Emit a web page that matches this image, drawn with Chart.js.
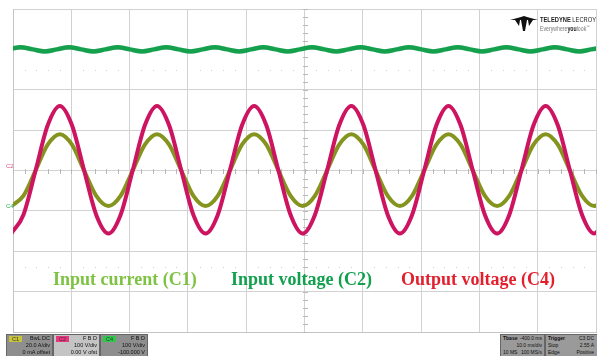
<!DOCTYPE html>
<html>
<head>
<meta charset="utf-8">
<script src="https://cdn.jsdelivr.net/npm/chart.js@4"></script>
<style>
  body { margin: 0; background: #fff; }
  #wrap { position: relative; width: 597px; height: 356px; overflow: hidden; font-family: "Liberation Sans", Arial, sans-serif; }
  canvas { position: absolute; left: 0; top: 0; }
  .lbl { position: absolute; top: 269px; font: bold 18px "Liberation Serif", "Times New Roman", serif; white-space: nowrap; }
  .chm { position: absolute; font-size: 6px; left: 6px; }
  .box { position: absolute; top: 334px; height: 24px; background: #8e8e8e; border: 1px solid #666; box-sizing: border-box; font-size: 5.5px; line-height: 7px; color: #111; }
  .box .b { position: absolute; left: 2px; top: 1px; width: 13px; height: 6px; font-size: 5.5px; line-height: 6px; text-align: center; color: #333; }
  .box .r { position: absolute; right: 2px; text-align: right; white-space: nowrap; }
  .box .l { position: absolute; left: 2px; white-space: nowrap; }
  #logo { position: absolute; left: 510px; top: 14px; }
</style>
</head>
<body>
<div id="wrap">
  <canvas id="scope" width="597" height="356"></canvas>

  <div class="lbl" style="left:53px;color:#7dc242">Input current (C1)</div>
  <div class="lbl" style="left:231px;color:#12a04e">Input voltage (C2)</div>
  <div class="lbl" style="left:401px;color:#e41f2d">Output voltage (C4)</div>

  <div class="chm" style="top:163px;color:#e0508a">C2</div>
  <div class="chm" style="top:203px;color:#20b050">C4</div>

  <div id="logo">
    <svg width="28" height="16" style="position:absolute;left:0;top:2px">
      <polygon points="0,4 11,1 14,0 17,1 28,4 17,4 15,15 13,15 11,4" fill="#111"/>
      <polygon points="5,4 10,4 9,10" fill="#111"/>
      <polygon points="18,4 23,4 19,10" fill="#111"/>
    </svg>
    <div style="position:absolute;left:30px;top:1px;font-size:8px;font-weight:bold;color:#222;white-space:nowrap;transform:scaleX(0.72);transform-origin:0 0">TELEDYNE <span style="font-weight:normal">LECROY</span></div>
    <div style="position:absolute;left:30px;top:10px;font-size:6.5px;color:#777;white-space:nowrap;transform:scaleX(0.8);transform-origin:0 0">Everywhere<b style="color:#222">you</b>look<sup style="font-size:4px">™</sup></div>
  </div>

  <div class="box" style="left:6px;width:47px">
    <div class="b" style="background:#c8c43a">C1</div>
    <div class="r" style="top:0px">BwL DC</div>
    <div class="r" style="top:7px">20.0 A/div</div>
    <div class="r" style="top:14px">0 mA offset</div>
  </div>
  <div class="box" style="left:53px;width:47px;background:#c4c4c4">
    <div class="b" style="background:#e8367e">C2</div>
    <div class="r" style="top:0px">F B D</div>
    <div class="r" style="top:7px">100 V/div</div>
    <div class="r" style="top:14px">0.00 V ofst</div>
  </div>
  <div class="box" style="left:100px;width:48px">
    <div class="b" style="background:#2ec84c">C4</div>
    <div class="r" style="top:0px">F B D</div>
    <div class="r" style="top:7px">100 V/div</div>
    <div class="r" style="top:14px">-100.000 V</div>
  </div>
  <div class="box" style="left:500px;width:45px;background:#9a9a9a;font-size:5px">
    <div class="l" style="top:0px;font-weight:bold">Tbase</div>
    <div class="r" style="top:0px">-400.0 ms</div>
    <div class="r" style="top:7px">10.0 ms/div</div>
    <div class="l" style="top:14px">10 MS</div>
    <div class="r" style="top:14px">100 MS/s</div>
  </div>
  <div class="box" style="left:545px;width:56px;background:#9a9a9a;font-size:5px">
    <div class="l" style="top:0px;font-weight:bold">Trigger</div>
    <div class="r" style="top:0px;right:6px">C3 DC</div>
    <div class="l" style="top:7px">Stop</div>
    <div class="r" style="top:7px;right:6px">2.55 A</div>
    <div class="l" style="top:14px">Edge</div>
    <div class="r" style="top:14px;right:6px">Positive</div>
  </div>
</div>

<script>
// time axis in ms (10 ms/div), vertical axis in divisions
var timeMs = [
  -0.3, 1.78, 3.87, 5.95, 8.03, 10.12, 12.2, 14.28, 16.37,
  18.45, 20.53, 22.62, 24.7, 26.78, 28.87, 30.95, 33.03,
  35.12, 37.2, 39.28, 41.37, 43.45, 45.53, 47.62, 49.7,
  51.78, 53.87, 55.95, 58.03, 60.12, 62.2, 64.28, 66.37,
  68.45, 70.53, 72.62, 74.7, 76.78, 78.87, 80.95, 83.03,
  85.12, 87.2, 89.28, 91.37, 93.45, 95.53, 97.62, 99.7, 101.78
];
var inputCurrent = [
  -0.88, -0.63, 0, 0.64, 0.9, 0.64, 0, -0.63,
  -0.88, -0.63, 0, 0.64, 0.9, 0.64, 0, -0.63,
  -0.88, -0.63, 0, 0.64, 0.9, 0.64, 0, -0.63,
  -0.88, -0.63, 0, 0.64, 0.9, 0.64, 0, -0.63,
  -0.88, -0.63, 0, 0.64, 0.9, 0.64, 0, -0.63,
  -0.88, -0.63, 0, 0.64, 0.9, 0.64, 0, -0.63,
  -0.88, -0.63
];
var outputVoltage = [
  -1.56, -1.1, 0, 1.12, 1.6, 1.12, 0, -1.1,
  -1.56, -1.1, 0, 1.12, 1.6, 1.12, 0, -1.1,
  -1.56, -1.1, 0, 1.12, 1.6, 1.12, 0, -1.1,
  -1.56, -1.1, 0, 1.12, 1.6, 1.12, 0, -1.1,
  -1.56, -1.1, 0, 1.12, 1.6, 1.12, 0, -1.1,
  -1.56, -1.1, 0, 1.12, 1.6, 1.12, 0, -1.1,
  -1.56, -1.1
];
var rippleTimeMs = [
  -0.8, 1.28, 3.37, 5.45, 7.53, 9.62, 11.7, 13.78, 15.87,
  17.95, 20.03, 22.12, 24.2, 26.28, 28.37, 30.45, 32.53,
  34.62, 36.7, 38.78, 40.87, 42.95, 45.03, 47.12, 49.2,
  51.28, 53.37, 55.45, 57.53, 59.62, 61.7, 63.78, 65.87,
  67.95, 70.03, 72.12, 74.2, 76.28, 78.37, 80.45, 82.53,
  84.62, 86.7, 88.78, 90.87, 92.95, 95.03, 97.12, 99.2, 101.28
];
var inputVoltage = [
  3.0, 3.05, 3.0, 2.95, 3.0, 3.05, 3.0, 2.95,
  3.0, 3.05, 3.0, 2.95, 3.0, 3.05, 3.0, 2.95,
  3.0, 3.05, 3.0, 2.95, 3.0, 3.05, 3.0, 2.95,
  3.0, 3.05, 3.0, 2.95, 3.0, 3.05, 3.0, 2.95,
  3.0, 3.05, 3.0, 2.95, 3.0, 3.05, 3.0, 2.95,
  3.0, 3.05, 3.0, 2.95, 3.0, 3.05, 3.0, 2.95,
  3.0, 3.05
];

function pts(xs, ys) {
  return xs.map(function(t, i) { return {x: t, y: ys[i]}; });
}

// scope graticule extras: minor ticks on the centre cross, dotted rows
var graticule = {
  id: 'graticule',
  beforeDatasetsDraw: function(chart) {
    var ctx = chart.ctx, x = chart.scales.x, y = chart.scales.y;
    var y0 = Math.round(y.getPixelForValue(0)), x0 = Math.round(x.getPixelForValue(50));
    ctx.save();
    ctx.fillStyle = '#b8b8b8';
    for (var t = 0; t <= 100; t += 2) {
      ctx.fillRect(Math.round(x.getPixelForValue(t)), y0 - 2, 1, 5);
    }
    for (var v = -4; v <= 4.001; v += 0.2) {
      ctx.fillRect(x0 - 2, Math.round(y.getPixelForValue(v)), 5, 1);
    }
    ctx.fillStyle = '#cfcfcf';
    [2.5, -2.4].forEach(function(row) {
      var py = Math.round(y.getPixelForValue(row));
      for (var t = 0; t < 100; t += 2) {
        if (t % 10 === 0) continue;
        ctx.fillRect(Math.round(x.getPixelForValue(t)), py, 1, 1);
      }
    });
    ctx.restore();
  }
};

var scopeChart = new Chart(document.getElementById('scope').getContext('2d'), {
  type: 'line',
  data: {
    datasets: [{
      label: 'Input voltage (C2)',
      data: pts(rippleTimeMs, inputVoltage),
      borderColor: '#14a04c',
      borderWidth: 4.5
    }, {
      label: 'Output voltage (C4)',
      data: pts(timeMs, outputVoltage),
      borderColor: '#cc1460',
      borderWidth: 4
    }, {
      label: 'Input current (C1)',
      data: pts(timeMs, inputCurrent),
      borderColor: '#84941e',
      borderWidth: 4
    }]
  },
  options: {
    responsive: false,
    animation: false,
    parsing: false,
    elements: {
      point: { radius: 0 },
      line: { cubicInterpolationMode: 'monotone', fill: false }
    },
    layout: { padding: { left: 13, right: 1, top: 9, bottom: 24 } },
    plugins: { legend: { display: false }, tooltip: { enabled: false } },
    scales: {
      x: {
        type: 'linear', min: 0, max: 100,
        ticks: { display: false, stepSize: 10 },
        grid: { color: '#d2d2d2', drawTicks: false },
        border: { color: '#c4c4c4' }
      },
      y: {
        type: 'linear', min: -4, max: 4,
        ticks: { display: false, stepSize: 1 },
        grid: { color: '#d2d2d2', drawTicks: false },
        border: { color: '#c4c4c4' }
      }
    }
  },
  plugins: [graticule]
});
</script>
</body>
</html>
